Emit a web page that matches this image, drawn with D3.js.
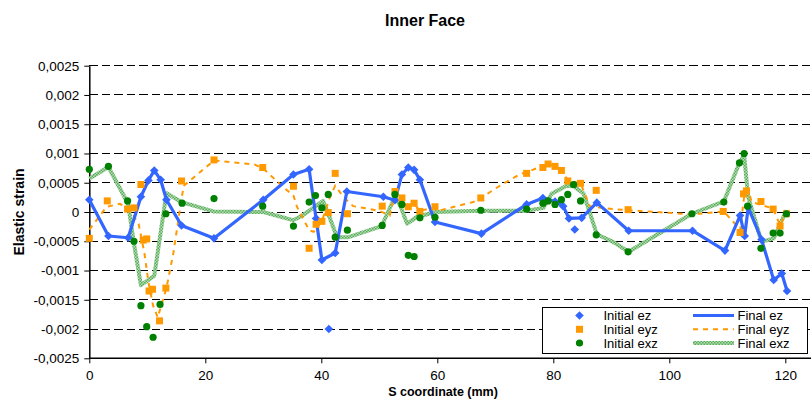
<!DOCTYPE html>
<html><head><meta charset="utf-8">
<script src="https://cdn.jsdelivr.net/npm/d3@7"></script>
<style>body{margin:0;background:#fff}svg{display:block}text{font-family:"Liberation Sans",Arial,sans-serif;fill:#000}</style>
</head><body><svg id="c" width="811" height="410"></svg>
<script>
const title = "Inner Face";
const xTitle = "S coordinate (mm)";
const yTitle = "Elastic strain";
const xTicks = [0,20,40,60,80,100,120];
const yTicks = [0.0025,0.002,0.0015,0.001,0.0005,0,-0.0005,-0.001,-0.0015,-0.002,-0.0025];
const seriesNames = ["Initial ez","Initial eyz","Initial exz","Final ez","Final eyz","Final exz"];

const finalEzX = [0,3.3,6.7,8.9,10.2,11.2,12.3,13.3,15.9,21.5,30.0,35.2,37.9,39.1,40.1,42.4,44.4,50.7,52.7,53.9,55.0,56.0,57.0,59.6,67.6,75.4,78.2,80.3,81.7,82.7,84.9,87.5,93.0,104.0,109.6,112.2,113.0,113.6,115.9,118.0,119.4,120.3];
const finalEzY = [0.00021,-0.00041,-0.00044,0.00026,0.00054,0.00071,0.00055,0.00021,-0.00023,-0.00045,0.00021,0.00064,0.00073,-0.00011,-0.00082,-0.0007,0.00035,0.00026,0.0002,0.00064,0.00076,0.00072,0.00055,-0.00017,-0.00037,0.00013,0.00024,0.00018,0.0001,-0.00011,-0.0001,0.00016,-0.00032,-0.00032,-0.00066,-0.00006,-0.00041,0.00008,-0.00047,-0.00116,-0.00105,-0.00135];

const initEzX = [0,3.3,6.7,8.9,10.2,11.2,12.3,13.3,15.9,21.5,30.0,35.2,37.9,39.1,40.1,41.3,42.4,44.4,50.7,52.7,53.9,55.0,56.0,57.0,59.6,67.6,75.4,78.2,80.3,81.7,82.7,83.7,84.9,87.5,93.0,104.0,109.6,112.2,113.0,113.6,115.9,118.0,119.4,120.3];
const initEzY = [0.00021,-0.00041,-0.00044,0.00026,0.00054,0.00071,0.00055,0.00021,-0.00023,-0.00045,0.00021,0.00064,0.00073,-0.00011,-0.00082,-0.002,-0.0007,0.00035,0.00026,0.0002,0.00064,0.00076,0.00072,0.00055,-0.00017,-0.00037,0.00013,0.00024,0.00018,0.0001,-0.00011,-0.0003,-0.0001,0.00016,-0.00032,-0.00032,-0.00066,-0.00006,-0.00041,0.00008,-0.00047,-0.00116,-0.00105,-0.00135];

const initEyzX = [0,3.1,6.6,7.7,8.9,9.3,9.9,10.3,10.9,12.1,13.2,15.9,21.5,29.9,35.2,37.9,39.1,40.1,41.2,42.4,44.5,50.5,52.7,53.9,55.0,56.0,57.0,59.6,67.5,75.4,78.2,79.1,80.3,81.4,82.5,84.7,87.4,92.9,109.3,112.2,112.8,113.3,115.8,117.9,119.1,120.2];
const initEyzY = [-0.00045,0.00019,0.00005,0.00007,0.00047,-0.00048,-0.00046,-0.00135,-0.00132,-0.00186,-0.0013,0.00053,0.00089,0.00076,0.00044,-0.00062,-0.00021,-0.00016,-0.00001,0.00066,-0.00003,0.0001,0.00035,0.00024,0.00009,0.00015,0.00001,0.00009,0.00024,0.00066,0.00076,0.00082,0.00078,0.00071,0.00053,0.00049,0.00037,0.00004,0.00001,-0.00035,0.00031,0.00036,0.00018,0.00005,-0.00024,-0.00003];

const finalEyzX = [0,3.0,5.3,7.2,8.5,9.5,10.2,11.0,11.8,13.3,14.5,15.9,16.3,21.5,28.5,30.0,33.4,35.2,35.8,37.0,37.9,38.7,40.1,41.5,42.4,43.8,45.5,47.8,50.0,51.8,52.7,53.9,55.0,56.0,57.0,59.6,60.5,66.2,67.4,70.0,74.3,75.4,77.7,79.1,80.6,81.4,82.6,84.7,86.3,89.2,92.9,104.0,109.4,111.3,112.2,113.0,113.6,114.2,117.9,119.1,120.2];
const finalEyzY = [-0.0003,0.00009,0.00014,0.0,-0.0002,-0.0007,-0.0012,-0.0016,-0.0018,-0.0013,-0.0007,0.00023,0.00045,0.00088,0.00081,0.00074,0.00043,0.00028,0.00009,-0.00014,-0.00031,-0.00034,-0.00016,0.00026,0.00045,0.00026,0.0001,0.00006,0.00002,-0.00006,0.00033,0.00022,0.0001,0.00014,0.00002,0.00008,0.00003,0.00017,0.00023,0.0004,0.00065,0.00068,0.00077,0.00082,0.00077,0.00068,0.00054,0.00049,0.0001,0.00006,0.00003,-0.00004,0.00001,-0.0002,-0.00031,0.00034,0.00038,0.00017,0.00006,-0.00023,0.0];

const initExzX = [0,3.3,6.6,7.7,8.9,9.9,11.0,12.2,13.2,16.0,21.5,29.9,35.2,37.9,39.0,40.1,41.2,42.4,44.5,50.5,52.7,53.9,55.0,56.0,57.0,59.6,67.5,75.4,78.2,79.1,80.3,81.4,82.5,83.5,84.7,87.4,92.9,103.9,109.4,112.1,112.9,113.5,115.8,117.9,119.1,120.2];
const initExzY = [0.00073,0.00078,0.00019,-0.0005,-0.0016,-0.00196,-0.00214,-0.00158,-0.00003,0.00015,0.00023,0.0001,-0.00024,0.00017,0.00028,0.00007,0.0003,-0.00043,-0.00031,-0.00023,0.0003,0.00013,-0.00074,-0.00076,-0.0001,-0.00009,0.00003,0.00005,0.00015,0.00019,0.00013,0.00021,0.0003,0.00047,0.00019,-0.00039,-0.00068,-0.00003,0.00017,0.00084,0.001,0.0001,-0.00062,-0.00036,-0.00036,-0.00003];

const finalExzX = [0,3.3,6.7,7.6,8.9,11.2,13.3,15.9,21.4,30.0,35.1,36.6,40.3,41.2,42.7,44.7,50.4,52.7,53.6,54.8,56.4,59.6,67.5,75.4,78.3,79.7,82.3,83.5,85.2,87.5,90.3,93.0,103.9,109.4,112.1,112.9,113.6,115.9,118.0,120.2];
const finalExzY = [0.00057,0.00077,0.00014,-0.00048,-0.00125,-0.00109,0.00032,0.00017,0.00001,0.0,-0.00014,-0.00007,0.00019,-0.00003,-0.00043,-0.00043,-0.00024,0.00026,0.00011,-0.0002,-0.00009,0.0,0.00002,0.00002,0.00007,0.00031,0.00045,0.00044,0.00032,-0.00038,-0.00051,-0.00068,-0.00003,0.00018,0.00084,0.00097,0.00026,-0.00051,-0.00045,0.00003];

const zip = (xs, ys) => xs.map((x, i) => ({x, y: ys[i]}));
const blue = "#3366ff", orange = "#ff9900", green = "#008000";

const svg = d3.select("#c");
const m = {left: 89.3, top: 65.7, bottom: 358.3};
const x = d3.scaleLinear().domain([0, 125]).range([m.left, m.left + 125 * 5.8]);
const y = d3.scaleLinear().domain([-0.0025, 0.0025]).range([m.bottom, m.top]);
const loc = d3.formatLocale({decimal: ",", thousands: ".", grouping: [3], currency: ["", ""], minus: "-"});
const fmt = loc.format("~g");

// pattern for textured green line
const defs = svg.append("defs");
const pat = defs.append("pattern").attr("id","hatch").attr("patternUnits","userSpaceOnUse").attr("width",3).attr("height",3);
pat.append("rect").attr("width",3).attr("height",3).attr("fill","#b4e0b4");
pat.append("rect").attr("width",1.5).attr("height",1.5).attr("fill","#5aa85a");
pat.append("rect").attr("x",1.5).attr("y",1.5).attr("width",1.5).attr("height",1.5).attr("fill","#5aa85a");

// gridlines
svg.append("g").selectAll("line").data(yTicks.filter(t => t > -0.0025)).join("line")
  .attr("x1", m.left).attr("x2", 811).attr("y1", d => y(d)).attr("y2", d => y(d))
  .attr("stroke", "#000").attr("stroke-width", 1).attr("stroke-dasharray", "8.5,4")
  .attr("shape-rendering", "crispEdges");

// axes
const yAxis = svg.append("g").attr("transform", `translate(${m.left},0)`)
  .call(d3.axisLeft(y).tickValues(yTicks).tickFormat(fmt).tickSizeInner(5).tickSizeOuter(0).tickPadding(5));
const xAxis = svg.append("g").attr("transform", `translate(0,${m.bottom})`)
  .call(d3.axisBottom(x).tickValues(xTicks).tickSizeInner(5).tickSizeOuter(0).tickPadding(7));
[yAxis, xAxis].forEach(a => {
  a.select(".domain").attr("stroke", "#000").attr("stroke-width", 1.5);
  a.selectAll(".tick line").attr("stroke", "#000");
  a.selectAll("text").style("font-size", "13.5px").attr("fill", "#000").style("font-family", '"Liberation Sans",Arial,sans-serif');
});
xAxis.select(".domain").attr("d", `M${m.left},0H811`);

// lines
const line = d3.line().x(d => x(d.x)).y(d => y(d.y));
const plot = svg.append("g");
plot.append("path").datum(zip(finalExzX, finalExzY)).attr("d", line)
  .attr("fill", "none").attr("stroke", "url(#hatch)").attr("stroke-width", 4).attr("stroke-linejoin","round");
plot.append("path").datum(zip(finalEyzX, finalEyzY)).attr("d", line)
  .attr("fill", "none").attr("stroke", orange).attr("stroke-width", 2).attr("stroke-dasharray", "5,5");
plot.append("path").datum(zip(finalEzX, finalEzY)).attr("d", line)
  .attr("fill", "none").attr("stroke", blue).attr("stroke-width", 3.2).attr("stroke-linejoin","round");

// markers (square-ish diamond)
const dm = 4.3;
const diamondPath = `M0,${-dm}L${dm},0L0,${dm}L${-dm},0Z`;
plot.append("g").selectAll("path").data(zip(initEzX, initEzY)).join("path")
  .attr("d", diamondPath).attr("transform", d => `translate(${x(d.x)},${y(d.y)})`).attr("fill", blue);
plot.append("g").selectAll("rect").data(zip(initEyzX, initEyzY)).join("rect")
  .attr("x", d => x(d.x) - 3.5).attr("y", d => y(d.y) - 3.5).attr("width", 7).attr("height", 7).attr("fill", orange);
plot.append("g").selectAll("circle").data(zip(initExzX, initExzY)).join("circle")
  .attr("cx", d => x(d.x)).attr("cy", d => y(d.y)).attr("r", 3.6).attr("fill", green);

// titles
svg.append("text").attr("x", 425).attr("y", 25.5).attr("text-anchor", "middle")
  .style("font-size", "16px").style("font-weight", "bold").text(title);
svg.append("text").attr("x", 443).attr("y", 396).attr("text-anchor", "middle")
  .style("font-size", "12.5px").style("font-weight", "bold").text(xTitle);
svg.append("text").attr("transform", "translate(24,212) rotate(-90)").attr("text-anchor", "middle")
  .style("font-size", "14px").style("font-weight", "bold").text(yTitle);

// legend
const lg = svg.append("g");
lg.append("rect").attr("x", 542.5).attr("y", 307.5).attr("width", 265).attr("height", 46)
  .attr("fill", "#fff").attr("stroke", "#000").attr("stroke-width", 1);
const rows = [315.5, 329.3, 343];
lg.append("path").attr("d", diamondPath).attr("transform", `translate(579.5,${rows[0]})`).attr("fill", blue);
lg.append("rect").attr("x", 576).attr("y", rows[1] - 3.5).attr("width", 7).attr("height", 7).attr("fill", orange);
lg.append("circle").attr("cx", 579.5).attr("cy", rows[2]).attr("r", 3.6).attr("fill", green);
[0,1,2].forEach(i => lg.append("text").attr("x", 603.5).attr("y", rows[i]).attr("dy", "0.35em")
  .style("font-size", "13px").text(seriesNames[i]));
lg.append("line").attr("x1", 693).attr("x2", 734).attr("y1", rows[0]).attr("y2", rows[0]).attr("stroke", blue).attr("stroke-width", 3.2);
lg.append("line").attr("x1", 693).attr("x2", 734).attr("y1", rows[1]).attr("y2", rows[1]).attr("stroke", orange).attr("stroke-width", 2).attr("stroke-dasharray", "5,5");
lg.append("line").attr("x1", 693).attr("x2", 734).attr("y1", rows[2]).attr("y2", rows[2]).attr("stroke", "url(#hatch)").attr("stroke-width", 4);
[3,4,5].forEach(i => lg.append("text").attr("x", 737.5).attr("y", rows[i-3]).attr("dy", "0.35em")
  .style("font-size", "13px").text(seriesNames[i]));
</script></body></html>
